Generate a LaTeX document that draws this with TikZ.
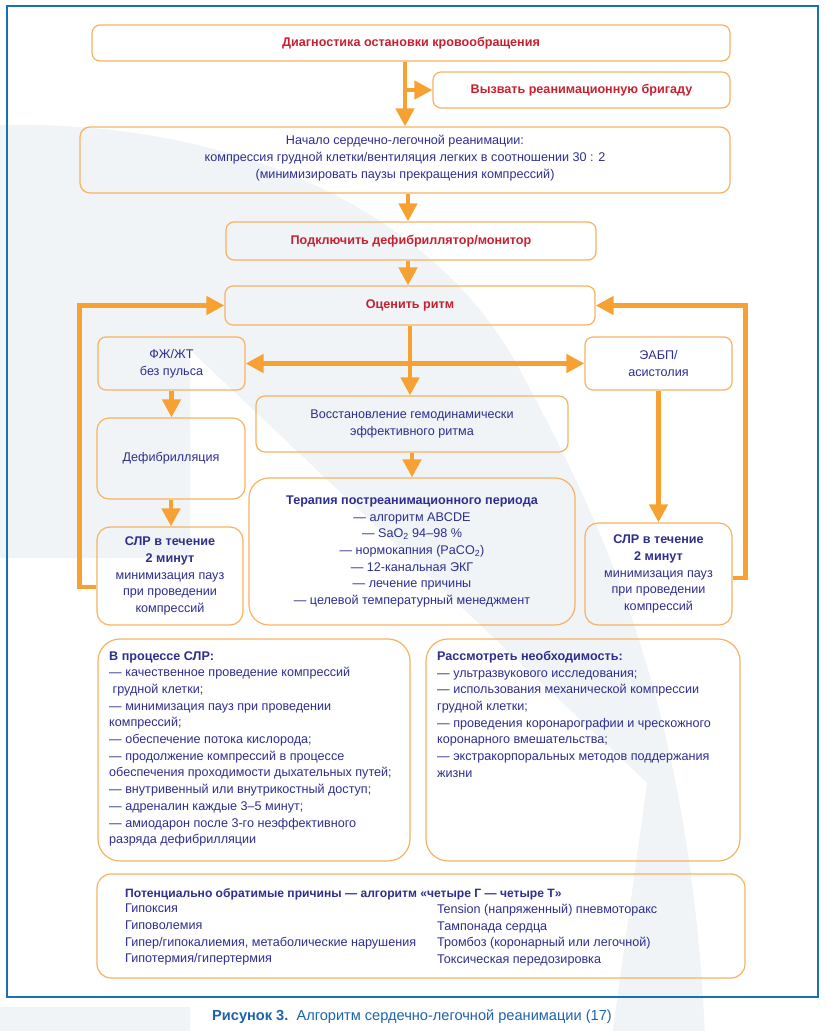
\documentclass[tikz,border=0pt]{standalone}
\usepackage{fontspec}
\setmainfont{Liberation Sans}
\usetikzlibrary{arrows.meta}
\definecolor{boxc}{HTML}{F7B261}
\definecolor{arrc}{HTML}{F8A133}
\definecolor{redt}{HTML}{C7202F}
\definecolor{bluet}{HTML}{2E2E8E}
\definecolor{framec}{HTML}{1B6FB5}
\definecolor{bgc}{HTML}{F0F4F7}
\definecolor{capc}{HTML}{1D63AE}
\newcommand\txtsize{\fontsize{12.6}{16.7}\selectfont}
\tikzset{
  box/.style={draw=boxc, line width=1.2pt, rounded corners=8pt, inner sep=0pt,
    align=center, text=bluet, font=\txtsize},
  redbox/.style={box, text=redt, font=\txtsize\bfseries},
  txt/.style={inner sep=0pt, text=bluet, font=\txtsize, align=center},
  ltxt/.style={txt, anchor=north west, align=left},
  arr/.style={draw=arrc, line width=4.5pt, -{Triangle[length=18pt,width=18pt]}},
  darr/.style={draw=arrc, line width=4.5pt, {Triangle[length=18pt,width=18pt]}-{Triangle[length=18pt,width=18pt]}}
}
\begin{document}
\begin{tikzpicture}[x=1pt,y=-1pt]
\useasboundingbox (0,0) rectangle (826,1031);
% background watermark
\fill[bgc] (-5,124) -- (0,125) .. controls (250,120) and (440,220) .. (520,370)
  .. controls (600,520) and (690,700) .. (705,1036) -- (-5,1036) -- cycle;
\fill[white] (190,350) -- (647,783) -- (612,1036) -- (-5,1036) -- (-5,558) -- (190,558) -- cycle;
\fill[bgc] (0,1007) rectangle (190,1031);
% frame
\draw[framec, line width=1.5pt] (7,6) rectangle (818,997);

% boxes
\node[redbox, minimum width=638, minimum height=36] (diag) at (411,43) {Диагностика остановки кровообращения};
\node[redbox, minimum width=297, minimum height=36] (call) at (581.5,90) {Вызвать реанимационную бригаду};
\node[box, rounded corners=10pt, minimum width=650, minimum height=66] (nach) at (405,160) {};
\node[txt] (nachT) at (405,158) {Начало сердечно-легочной реанимации:\\компрессия грудной клетки/вентиляция легких в соотношении 30 : 2\\(минимизировать паузы прекращения компрессий)};
\node[redbox, minimum width=370, minimum height=38] (podk) at (411,241) {Подключить дефибриллятор/монитор};
\node[redbox, minimum width=370, minimum height=39] (ocen) at (410,305.5) {Оценить ритм};
\node[box, minimum width=147, minimum height=53] (fzh) at (171.5,363.5) {ФЖ/ЖТ\\без пульса};
\node[box, minimum width=147, minimum height=53] (eabp) at (658.5,363.5) {ЭАБП/\\асистолия};
\node[box, rounded corners=9pt, minimum width=312, minimum height=56] (vost) at (412,424) {Восстановление гемодинамически\\эффективного ритма};
\node[box, rounded corners=12pt, minimum width=148, minimum height=81] (defib) at (171,458.5) {Дефибрилляция};
\node[box, rounded corners=20pt, minimum width=326, minimum height=147] (ter) at (412,551.5)
  {\textbf{Терапия постреанимационного периода}\\— алгоритм ABCDE\\— SaO\textsubscript{2} 94–98 \%\\— нормокапния (PaCO\textsubscript{2})\\— 12-канальная ЭКГ\\— лечение причины\\— целевой температурный менеджмент};
\node[box, rounded corners=13pt, minimum width=146, minimum height=98] (slrL) at (170,576)
  {\textbf{СЛР в течение}\\\textbf{2 минут}\\минимизация пауз\\при проведении\\компрессий};
\node[box, rounded corners=13pt, minimum width=147, minimum height=102] (slrR) at (658.5,574)
  {\textbf{СЛР в течение}\\\textbf{2 минут}\\минимизация пауз\\при проведении\\компрессий};
\node[box, rounded corners=22pt, minimum width=312, minimum height=222] (proc) at (254,750) {};
\node[ltxt] (procT) at (109,651) {\textbf{В процессе СЛР:}\\— качественное проведение компрессий\\\hspace*{3.5pt}грудной клетки;\\— минимизация пауз при проведении\\компрессий;\\— обеспечение потока кислорода;\\— продолжение компрессий в процессе\\обеспечения проходимости дыхательных путей;\\— внутривенный или внутрикостный доступ;\\— адреналин каждые 3–5 минут;\\— амиодарон после 3-го неэффективного\\разряда дефибрилляции};
\node[box, rounded corners=22pt, minimum width=314, minimum height=222] (rassm) at (583,750) {};
\node[ltxt] (rassmT) at (437,651) {\textbf{Рассмотреть необходимость:}\\— ультразвукового исследования;\\— использования механической компрессии\\грудной клетки;\\— проведения коронарографии и чрескожного\\коронарного вмешательства;\\— экстракорпоральных методов поддержания\\жизни};
\node[box, rounded corners=14pt, minimum width=648, minimum height=104] (pot) at (421,926) {};
\node[ltxt, font=\fontsize{12.1}{16.7}\selectfont\bfseries] (potT) at (125,888) {Потенциально обратимые причины — алгоритм «четыре Г — четыре Т»};
\node[ltxt] (potL) at (125,904) {Гипоксия\\Гиповолемия\\Гипер/гипокалиемия, метаболические нарушения\\Гипотермия/гипертермия};
\node[ltxt] (potR) at (437,904) {Tension (напряженный) пневмоторакс\\Тампонада сердца\\Тромбоз (коронарный или легочной)\\Токсическая передозировка};

% caption
\node[inner sep=0pt, font=\fontsize{14.6}{16}\selectfont, text=capc] (cap) at (412,1017)
  {\textbf{Рисунок 3.}\ \ Алгоритм сердечно-легочной реанимации (17)};

% connectors
\draw[arr] ([xshift=-6pt]diag.south) -- ([xshift=-6pt]diag.south |- nach.north);
\draw[arr] ([xshift=-6pt]diag.south |- call.west) -- (call.west);
\draw[arr] ([xshift=-3pt]podk.north |- nach.south) -- ([xshift=-3pt]podk.north);
\draw[arr] ([xshift=-3pt]podk.south) -- ([xshift=-3pt]podk.south |- ocen.north);
\draw[arr] (ocen.south) -- (ocen.south |- vost.north);
\draw[darr] (fzh.east) -- (eabp.west);
\draw[arr] (fzh.south) -- (fzh.south |- defib.north);
\draw[arr] (defib.south) -- (defib.south |- slrL.north);
\draw[arr] (vost.south) -- (vost.south |- ter.north);
\draw[arr] (eabp.south) -- (eabp.south |- slrR.north);
\draw[arr] ([yshift=-11pt]slrL.west) -- ++(-17,0) |- (ocen.west);
\draw[arr] ([yshift=-4pt]slrR.east) -- ++(13,0) |- (ocen.east);
\end{tikzpicture}
\end{document}
